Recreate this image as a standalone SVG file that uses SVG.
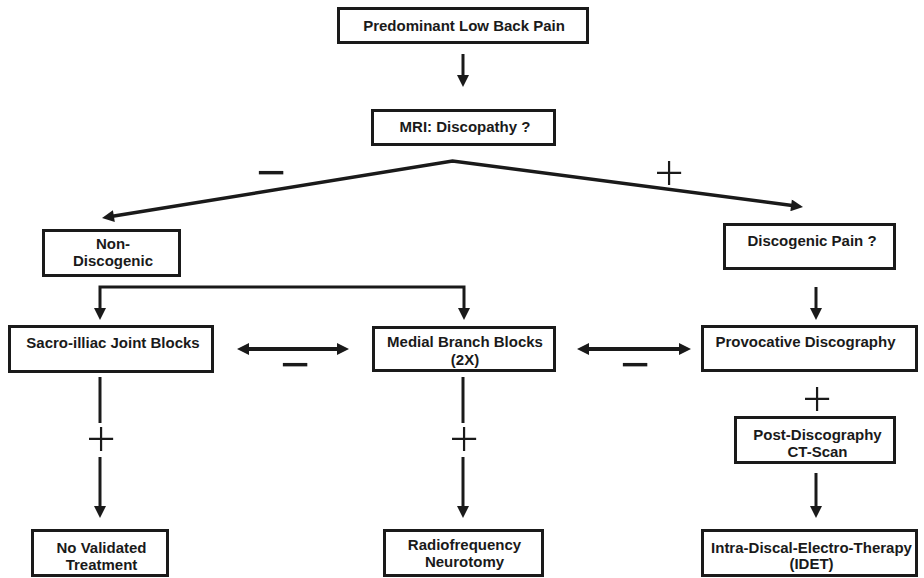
<svg xmlns="http://www.w3.org/2000/svg" width="924" height="578" viewBox="0 0 924 578">
<style>
  .box { fill: #fff; stroke: #1a1a1a; stroke-width: 3; }
  .lbl { font-family: "Liberation Sans", Arial, Helvetica, sans-serif; font-weight: bold; font-size: 15px; fill: #1a1a1a; text-anchor: middle; }
  .ln { fill: none; stroke: #1a1a1a; stroke-width: 3; }
  .thick { stroke-width: 3.5; }
  .bi { stroke-width: 4; }
  .sign { font-family: "Open Sans", "Liberation Sans", Arial, sans-serif; font-size: 52px; fill: #1a1a1a; text-anchor: middle; }
  .plus { font-weight: 300; }
  .minus { font-weight: 400; }
</style>
<defs>
  <marker id="ah" markerUnits="userSpaceOnUse" markerWidth="13" markerHeight="12" refX="3" refY="6" orient="auto-start-reverse" viewBox="0 0 12 12">
    <path d="M0,0 L12,6 L0,12 z" fill="#1a1a1a"/>
  </marker>
</defs>
<rect width="924" height="578" fill="#fff"/>

<g id="connectors">
  <path class="ln" d="M463,54 V78" marker-end="url(#ah)"/>
  <path class="ln thick" d="M110.9,216.55 L452.5,161 L794.1,205.8" marker-start="url(#ah)" marker-end="url(#ah)"/>
  <path class="ln" d="M100,311 V287 H464 V311" marker-start="url(#ah)" marker-end="url(#ah)"/>
  <path class="ln" d="M816,287 V311" marker-end="url(#ah)"/>
  <path class="ln bi" d="M246,349 H340" marker-start="url(#ah)" marker-end="url(#ah)"/>
  <path class="ln bi" d="M586,349 H682" marker-start="url(#ah)" marker-end="url(#ah)"/>
  <path class="ln" d="M100,377 V423"/>
  <path class="ln" d="M100,457 V509" marker-end="url(#ah)"/>
  <path class="ln" d="M463,377 V423"/>
  <path class="ln" d="M463,457 V509" marker-end="url(#ah)"/>
  <path class="ln" d="M816,473 V509" marker-end="url(#ah)"/>
  <text class="sign minus" x="271" y="191">−</text>
  <text class="sign plus" x="669" y="191">+</text>
  <text class="sign minus" x="295" y="383">−</text>
  <text class="sign minus" x="635" y="383">−</text>
  <text class="sign plus" x="101" y="457">+</text>
  <text class="sign plus" x="464" y="457">+</text>
  <text class="sign plus" x="817" y="417">+</text>
</g>

<g id="n-lbp">
  <rect class="box" x="338.5" y="8.5" width="249" height="34"/>
  <text class="lbl" x="464" y="31">Predominant Low Back Pain</text>
</g>
<g id="n-mri">
  <rect class="box" x="372.5" y="110.5" width="182" height="34"/>
  <text class="lbl" x="465" y="132">MRI: Discopathy ?</text>
</g>
<g id="n-nondisc">
  <rect class="box" x="43.5" y="230.5" width="136" height="45"/>
  <text class="lbl" x="113" y="249">Non-</text>
  <text class="lbl" x="113" y="266">Discogenic</text>
</g>
<g id="n-discpain">
  <rect class="box" x="724.5" y="224.5" width="170" height="44"/>
  <text class="lbl" x="812" y="246">Discogenic Pain ?</text>
</g>
<g id="n-sacro">
  <rect class="box" x="9.5" y="326.5" width="203" height="45"/>
  <text class="lbl" x="113" y="348">Sacro-illiac Joint Blocks</text>
</g>
<g id="n-medial">
  <rect class="box" x="373.5" y="327.5" width="181" height="43"/>
  <text class="lbl" x="465" y="347">Medial Branch Blocks</text>
  <text class="lbl" x="465" y="365">(2X)</text>
</g>
<g id="n-provoc">
  <rect class="box" x="702.5" y="326.5" width="214" height="44"/>
  <text class="lbl" x="805.5" y="347">Provocative Discography</text>
</g>
<g id="n-postct">
  <rect class="box" x="735.5" y="417.5" width="159" height="45"/>
  <text class="lbl" x="817.5" y="440">Post-Discography</text>
  <text class="lbl" x="817.5" y="457">CT-Scan</text>
</g>
<g id="n-novalid">
  <rect class="box" x="32.5" y="530.5" width="135" height="45"/>
  <text class="lbl" x="101.5" y="553">No Validated</text>
  <text class="lbl" x="101.5" y="570">Treatment</text>
</g>
<g id="n-rf">
  <rect class="box" x="384.5" y="530.5" width="158" height="45"/>
  <text class="lbl" x="464.5" y="550">Radiofrequency</text>
  <text class="lbl" x="464.5" y="567">Neurotomy</text>
</g>
<g id="n-idet">
  <rect class="box" x="702.5" y="530.5" width="214" height="45"/>
  <text class="lbl" x="811.5" y="553">Intra-Discal-Electro-Therapy</text>
  <text class="lbl" x="811.5" y="569">(IDET)</text>
</g>
</svg>
